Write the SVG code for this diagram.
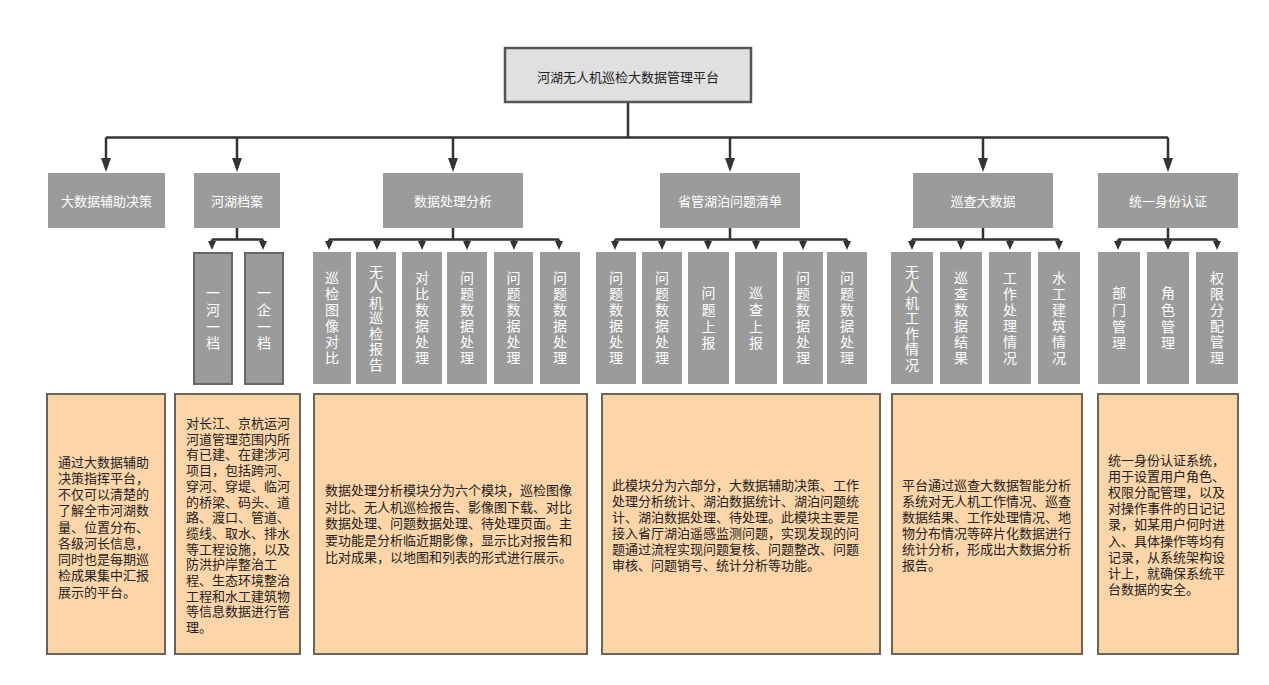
<svg xmlns="http://www.w3.org/2000/svg" width="1269" height="685" viewBox="0 0 1269 685">
<style>
.bg{fill:#ffffff}
.top{fill:#e0e0e0;stroke:#555555;stroke-width:2.5}
.l2{fill:#9b9b9b}
.l3{fill:#9b9b9b}
.l3b{fill:#9b9b9b;stroke:#666666;stroke-width:2}
.desc{fill:#fcd5a8;stroke:#6e6358;stroke-width:2}
.t{font-family:"Noto Sans CJK SC","Noto Sans",sans-serif;font-size:13px}
.tc{text-anchor:middle}
.w{fill:#ffffff}
.d{fill:#222222}
.v{font-family:"Noto Sans CJK SC","Noto Sans",sans-serif;font-size:14px;fill:#ffffff;text-anchor:middle}
.ln{fill:none;stroke:#333333;stroke-width:2.5}
</style>
<defs>
<marker id="arrowL" markerUnits="userSpaceOnUse" viewBox="0 0 14 10" markerWidth="14" markerHeight="10" refX="0" refY="5" orient="auto"><path d="M0,0 L14,5 L0,10 z" fill="#333333"/></marker>
<marker id="arrowS" markerUnits="userSpaceOnUse" viewBox="0 0 9 8" markerWidth="9" markerHeight="8" refX="0" refY="4" orient="auto"><path d="M0,0 L9,4 L0,8 z" fill="#333333"/></marker>
</defs>
<rect class="bg" x="0" y="0" width="1269" height="685"/>

<g id="connectors">
<path class="ln" d="M628,103 V137.5 M106,137.5 H1168"/>
<path class="ln" marker-end="url(#arrowL)" d="M106,137.5 V158"/>
<path class="ln" marker-end="url(#arrowL)" d="M237,137.5 V158"/>
<path class="ln" marker-end="url(#arrowL)" d="M453,137.5 V158"/>
<path class="ln" marker-end="url(#arrowL)" d="M730,137.5 V158"/>
<path class="ln" marker-end="url(#arrowL)" d="M983,137.5 V158"/>
<path class="ln" marker-end="url(#arrowL)" d="M1168,137.5 V158"/>
<path class="ln" d="M237,228 V239.5 M212,239.5 H263"/>
<path class="ln" marker-end="url(#arrowS)" d="M212,239.5 V241"/>
<path class="ln" marker-end="url(#arrowS)" d="M263,239.5 V241"/>
<path class="ln" d="M453,228 V239.5 M329,239.5 H559"/>
<path class="ln" marker-end="url(#arrowS)" d="M329,239.5 V241"/>
<path class="ln" marker-end="url(#arrowS)" d="M377,239.5 V241"/>
<path class="ln" marker-end="url(#arrowS)" d="M422,239.5 V241"/>
<path class="ln" marker-end="url(#arrowS)" d="M467,239.5 V241"/>
<path class="ln" marker-end="url(#arrowS)" d="M514,239.5 V241"/>
<path class="ln" marker-end="url(#arrowS)" d="M559,239.5 V241"/>
<path class="ln" d="M730,228 V239.5 M615,239.5 H847"/>
<path class="ln" marker-end="url(#arrowS)" d="M615,239.5 V241"/>
<path class="ln" marker-end="url(#arrowS)" d="M662,239.5 V241"/>
<path class="ln" marker-end="url(#arrowS)" d="M708,239.5 V241"/>
<path class="ln" marker-end="url(#arrowS)" d="M756,239.5 V241"/>
<path class="ln" marker-end="url(#arrowS)" d="M803,239.5 V241"/>
<path class="ln" marker-end="url(#arrowS)" d="M847,239.5 V241"/>
<path class="ln" d="M983,228 V239.5 M912,239.5 H1059"/>
<path class="ln" marker-end="url(#arrowS)" d="M912,239.5 V241"/>
<path class="ln" marker-end="url(#arrowS)" d="M961,239.5 V241"/>
<path class="ln" marker-end="url(#arrowS)" d="M1010,239.5 V241"/>
<path class="ln" marker-end="url(#arrowS)" d="M1059,239.5 V241"/>
<path class="ln" d="M1168,228 V239.5 M1118,239.5 H1217"/>
<path class="ln" marker-end="url(#arrowS)" d="M1118,239.5 V241"/>
<path class="ln" marker-end="url(#arrowS)" d="M1168,239.5 V241"/>
<path class="ln" marker-end="url(#arrowS)" d="M1217,239.5 V241"/>
</g>

<g id="root">
<rect class="top" x="505" y="48" width="246" height="54"/>
<text class="t tc" x="628" y="82" fill="#222222">河湖无人机巡检大数据管理平台</text>
</g>

<g id="n-dss"><rect class="l2" x="48" y="173" width="117" height="55"/><text class="t tc w" x="106.5" y="205.5">大数据辅助决策</text></g>
<g id="n-archive"><rect class="l2" x="194" y="173" width="86" height="55"/><text class="t tc w" x="237" y="205.5">河湖档案</text></g>
<g id="n-data"><rect class="l2" x="383" y="173" width="140" height="55"/><text class="t tc w" x="453" y="205.5">数据处理分析</text></g>
<g id="n-lake"><rect class="l2" x="660" y="173" width="140" height="55"/><text class="t tc w" x="730" y="205.5">省管湖泊问题清单</text></g>
<g id="n-patrol"><rect class="l2" x="913" y="173" width="140" height="55"/><text class="t tc w" x="983" y="205.5">巡查大数据</text></g>
<g id="n-auth"><rect class="l2" x="1098" y="173" width="140" height="55"/><text class="t tc w" x="1168" y="205.5">统一身份认证</text></g>

<g id="c-yhyd"><rect class="l3b" x="194" y="253" width="38" height="131"/><text class="v" x="213" y="298.3"><tspan x="213">一</tspan><tspan x="213" dy="16.7">河</tspan><tspan x="213" dy="16.7">一</tspan><tspan x="213" dy="16.7">档</tspan></text></g>
<g id="c-yqyd"><rect class="l3b" x="245" y="253" width="38" height="131"/><text class="v" x="264" y="298.3"><tspan x="264">一</tspan><tspan x="264" dy="16.7">企</tspan><tspan x="264" dy="16.7">一</tspan><tspan x="264" dy="16.7">档</tspan></text></g>

<g id="c-d1"><rect class="l3" x="313" y="252" width="38" height="132"/><text class="v" y="283.3"><tspan x="332">巡</tspan><tspan x="332" dy="16">检</tspan><tspan x="332" dy="16">图</tspan><tspan x="332" dy="16">像</tspan><tspan x="332" dy="16">对</tspan><tspan x="332" dy="16">比</tspan></text></g>
<g id="c-d2"><rect class="l3" x="356" y="252" width="40" height="132"/><text class="v" y="276.8"><tspan x="376">无</tspan><tspan x="376" dy="15.5">人</tspan><tspan x="376" dy="15.5">机</tspan><tspan x="376" dy="15.5">巡</tspan><tspan x="376" dy="15.5">检</tspan><tspan x="376" dy="15.5">报</tspan><tspan x="376" dy="15.5">告</tspan></text></g>
<g id="c-d3"><rect class="l3" x="402" y="252" width="40" height="132"/><text class="v" y="283.3"><tspan x="422">对</tspan><tspan x="422" dy="16">比</tspan><tspan x="422" dy="16">数</tspan><tspan x="422" dy="16">据</tspan><tspan x="422" dy="16">处</tspan><tspan x="422" dy="16">理</tspan></text></g>
<g id="c-d4"><rect class="l3" x="447" y="252" width="40" height="132"/><text class="v" y="283.3"><tspan x="467">问</tspan><tspan x="467" dy="16">题</tspan><tspan x="467" dy="16">数</tspan><tspan x="467" dy="16">据</tspan><tspan x="467" dy="16">处</tspan><tspan x="467" dy="16">理</tspan></text></g>
<g id="c-d5"><rect class="l3" x="494" y="252" width="39" height="132"/><text class="v" y="283.3"><tspan x="513.5">问</tspan><tspan x="513.5" dy="16">题</tspan><tspan x="513.5" dy="16">数</tspan><tspan x="513.5" dy="16">据</tspan><tspan x="513.5" dy="16">处</tspan><tspan x="513.5" dy="16">理</tspan></text></g>
<g id="c-d6"><rect class="l3" x="540" y="252" width="40" height="132"/><text class="v" y="283.3"><tspan x="560">问</tspan><tspan x="560" dy="16">题</tspan><tspan x="560" dy="16">数</tspan><tspan x="560" dy="16">据</tspan><tspan x="560" dy="16">处</tspan><tspan x="560" dy="16">理</tspan></text></g>

<g id="c-l1"><rect class="l3" x="596" y="252" width="40" height="132"/><text class="v" y="283.3"><tspan x="616">问</tspan><tspan x="616" dy="16">题</tspan><tspan x="616" dy="16">数</tspan><tspan x="616" dy="16">据</tspan><tspan x="616" dy="16">处</tspan><tspan x="616" dy="16">理</tspan></text></g>
<g id="c-l2"><rect class="l3" x="642" y="252" width="40" height="132"/><text class="v" y="283.3"><tspan x="662">问</tspan><tspan x="662" dy="16">题</tspan><tspan x="662" dy="16">数</tspan><tspan x="662" dy="16">据</tspan><tspan x="662" dy="16">处</tspan><tspan x="662" dy="16">理</tspan></text></g>
<g id="c-l3"><rect class="l3" x="688" y="252" width="41" height="132"/><text class="v" y="298.3"><tspan x="708.5">问</tspan><tspan x="708.5" dy="16.7">题</tspan><tspan x="708.5" dy="16.7">上</tspan><tspan x="708.5" dy="16.7">报</tspan></text></g>
<g id="c-l4"><rect class="l3" x="735" y="252" width="42" height="132"/><text class="v" y="298.3"><tspan x="756">巡</tspan><tspan x="756" dy="16.7">查</tspan><tspan x="756" dy="16.7">上</tspan><tspan x="756" dy="16.7">报</tspan></text></g>
<g id="c-l5"><rect class="l3" x="783" y="252" width="40" height="132"/><text class="v" y="283.3"><tspan x="803">问</tspan><tspan x="803" dy="16">题</tspan><tspan x="803" dy="16">数</tspan><tspan x="803" dy="16">据</tspan><tspan x="803" dy="16">处</tspan><tspan x="803" dy="16">理</tspan></text></g>
<g id="c-l6"><rect class="l3" x="827" y="252" width="40" height="132"/><text class="v" y="283.3"><tspan x="847">问</tspan><tspan x="847" dy="16">题</tspan><tspan x="847" dy="16">数</tspan><tspan x="847" dy="16">据</tspan><tspan x="847" dy="16">处</tspan><tspan x="847" dy="16">理</tspan></text></g>

<g id="c-p1"><rect class="l3" x="891" y="252" width="42" height="132"/><text class="v" y="276.8"><tspan x="912">无</tspan><tspan x="912" dy="15.5">人</tspan><tspan x="912" dy="15.5">机</tspan><tspan x="912" dy="15.5">工</tspan><tspan x="912" dy="15.5">作</tspan><tspan x="912" dy="15.5">情</tspan><tspan x="912" dy="15.5">况</tspan></text></g>
<g id="c-p2"><rect class="l3" x="940" y="252" width="42" height="132"/><text class="v" y="283.3"><tspan x="961">巡</tspan><tspan x="961" dy="16">查</tspan><tspan x="961" dy="16">数</tspan><tspan x="961" dy="16">据</tspan><tspan x="961" dy="16">结</tspan><tspan x="961" dy="16">果</tspan></text></g>
<g id="c-p3"><rect class="l3" x="989" y="252" width="42" height="132"/><text class="v" y="283.3"><tspan x="1010">工</tspan><tspan x="1010" dy="16">作</tspan><tspan x="1010" dy="16">处</tspan><tspan x="1010" dy="16">理</tspan><tspan x="1010" dy="16">情</tspan><tspan x="1010" dy="16">况</tspan></text></g>
<g id="c-p4"><rect class="l3" x="1038" y="252" width="42" height="132"/><text class="v" y="283.3"><tspan x="1059">水</tspan><tspan x="1059" dy="16">工</tspan><tspan x="1059" dy="16">建</tspan><tspan x="1059" dy="16">筑</tspan><tspan x="1059" dy="16">情</tspan><tspan x="1059" dy="16">况</tspan></text></g>

<g id="c-a1"><rect class="l3" x="1098" y="252" width="42" height="132"/><text class="v" y="298.3"><tspan x="1119">部</tspan><tspan x="1119" dy="16.7">门</tspan><tspan x="1119" dy="16.7">管</tspan><tspan x="1119" dy="16.7">理</tspan></text></g>
<g id="c-a2"><rect class="l3" x="1147" y="252" width="42" height="132"/><text class="v" y="298.3"><tspan x="1168">角</tspan><tspan x="1168" dy="16.7">色</tspan><tspan x="1168" dy="16.7">管</tspan><tspan x="1168" dy="16.7">理</tspan></text></g>
<g id="c-a3"><rect class="l3" x="1196" y="252" width="42" height="132"/><text class="v" y="283.3"><tspan x="1217">权</tspan><tspan x="1217" dy="16">限</tspan><tspan x="1217" dy="16">分</tspan><tspan x="1217" dy="16">配</tspan><tspan x="1217" dy="16">管</tspan><tspan x="1217" dy="16">理</tspan></text></g>

<g id="desc-dss"><rect class="desc" x="47" y="394" width="118" height="260"/>
<text class="t d" y="466.7"><tspan x="58">通过大数据辅助</tspan><tspan x="58" dy="16.25">决策指挥平台，</tspan><tspan x="58" dy="16.25">不仅可以清楚的</tspan><tspan x="58" dy="16.25">了解全市河湖数</tspan><tspan x="58" dy="16.25">量、位置分布、</tspan><tspan x="58" dy="16.25">各级河长信息，</tspan><tspan x="58" dy="16.25">同时也是每期巡</tspan><tspan x="58" dy="16.25">检成果集中汇报</tspan><tspan x="58" dy="16.25">展示的平台。</tspan></text></g>

<g id="desc-archive"><rect class="desc" x="175" y="394" width="125" height="260"/>
<text class="t d" y="428"><tspan x="186">对长江、京杭运河</tspan><tspan x="186" dy="15.7">河道管理范围内所</tspan><tspan x="186" dy="15.7">有已建、在建涉河</tspan><tspan x="186" dy="15.7">项目，包括跨河、</tspan><tspan x="186" dy="15.7">穿河、穿堤、临河</tspan><tspan x="186" dy="15.7">的桥梁、码头、道</tspan><tspan x="186" dy="15.7">路、渡口、管道、</tspan><tspan x="186" dy="15.7">缆线、取水、排水</tspan><tspan x="186" dy="15.7">等工程设施，以及</tspan><tspan x="186" dy="15.7">防洪护岸整治工</tspan><tspan x="186" dy="15.7">程、生态环境整治</tspan><tspan x="186" dy="15.7">工程和水工建筑物</tspan><tspan x="186" dy="15.7">等信息数据进行管</tspan><tspan x="186" dy="15.7">理。</tspan></text></g>

<g id="desc-data"><rect class="desc" x="314" y="394" width="273" height="260"/>
<text class="t d" y="495"><tspan x="325">数据处理分析模块分为六个模块，巡检图像</tspan><tspan x="325" dy="16.7">对比、无人机巡检报告、影像图下载、对比</tspan><tspan x="325" dy="16.7">数据处理、问题数据处理、待处理页面。主</tspan><tspan x="325" dy="16.7">要功能是分析临近期影像，显示比对报告和</tspan><tspan x="325" dy="16.7">比对成果，以地图和列表的形式进行展示。</tspan></text></g>

<g id="desc-lake"><rect class="desc" x="602" y="394" width="278" height="260"/>
<text class="t d" y="490"><tspan x="612">此模块分为六部分，大数据辅助决策、工作</tspan><tspan x="612" dy="16">处理分析统计、湖泊数据统计、湖泊问题统</tspan><tspan x="612" dy="16">计、湖泊数据处理、待处理。此模块主要是</tspan><tspan x="612" dy="16">接入省厅湖泊遥感监测问题，实现发现的问</tspan><tspan x="612" dy="16">题通过流程实现问题复核、问题整改、问题</tspan><tspan x="612" dy="16">审核、问题销号、统计分析等功能。</tspan></text></g>

<g id="desc-patrol"><rect class="desc" x="892" y="394" width="190" height="260"/>
<text class="t d" y="490"><tspan x="902">平台通过巡查大数据智能分析</tspan><tspan x="902" dy="16">系统对无人机工作情况、巡查</tspan><tspan x="902" dy="16">数据结果、工作处理情况、地</tspan><tspan x="902" dy="16">物分布情况等碎片化数据进行</tspan><tspan x="902" dy="16">统计分析，形成出大数据分析</tspan><tspan x="902" dy="16">报告。</tspan></text></g>

<g id="desc-auth"><rect class="desc" x="1098" y="394" width="140" height="260"/>
<text class="t d" y="465"><tspan x="1108">统一身份认证系统，</tspan><tspan x="1108" dy="16.1">用于设置用户角色、</tspan><tspan x="1108" dy="16.1">权限分配管理，以及</tspan><tspan x="1108" dy="16.1">对操作事件的日记记</tspan><tspan x="1108" dy="16.1">录，如某用户何时进</tspan><tspan x="1108" dy="16.1">入、具体操作等均有</tspan><tspan x="1108" dy="16.1">记录，从系统架构设</tspan><tspan x="1108" dy="16.1">计上，就确保系统平</tspan><tspan x="1108" dy="16.1">台数据的安全。</tspan></text></g>
</svg>
